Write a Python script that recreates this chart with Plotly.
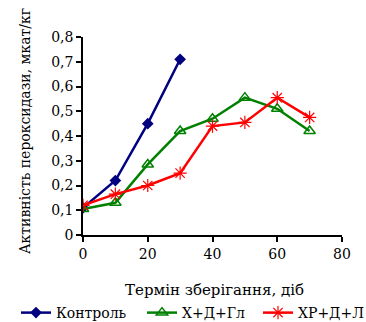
import plotly.graph_objects as go

days_ctrl = [0, 10, 20, 30]
ctrl = [0.11, 0.22, 0.45, 0.71]
days = [0, 10, 20, 30, 40, 50, 60, 70]
x_d_gl = [0.105, 0.13, 0.285, 0.42, 0.47, 0.555, 0.51, 0.42]
xr_d_l = [0.12, 0.165, 0.20, 0.25, 0.44, 0.455, 0.555, 0.475]

names = ["Контроль", "Х+Д+Гл", "ХР+Д+Л"]
x_ticks = [0, 20, 40, 60, 80]
y_ticks = [0, 0.1, 0.2, 0.3, 0.4, 0.5, 0.6, 0.7, 0.8]

FONT = "DejaVu Serif"

fig = go.Figure()
fig.add_trace(go.Scatter(x=days_ctrl, y=ctrl, name=names[0], mode="lines+markers",
                         line=dict(color="#000080", width=2.5), legend="legend",
                         marker=dict(symbol="diamond", size=9, color="#000080")))
fig.add_trace(go.Scatter(x=days, y=x_d_gl, name=names[1], mode="lines+markers",
                         line=dict(color="#008000", width=2.5), legend="legend2",
                         marker=dict(symbol="triangle-up-open", size=10, color="#008000",
                                     line=dict(color="#008000", width=1.5))))
fig.add_trace(go.Scatter(x=days, y=xr_d_l, name=names[2], mode="lines+markers",
                         line=dict(color="#FF0000", width=2.5), legend="legend3",
                         marker=dict(symbol="asterisk-open", size=11, color="#FF0000",
                                     line=dict(color="#FF0000", width=1.2))))

leg_common = dict(orientation="h", xanchor="left", yanchor="middle", y=-0.394,
                  font=dict(family=FONT, size=14), bgcolor="rgba(0,0,0,0)")

fig.update_layout(
    width=366, height=322,
    margin=dict(l=83, r=24, t=37, b=87, autoexpand=False),
    plot_bgcolor="white", paper_bgcolor="white",
    font=dict(family=FONT, size=14, color="black"),
    separators=", ",
    showlegend=True,
    legend=dict(x=(16 - 83) / 259, **leg_common),
    legend2=dict(x=(142 - 83) / 259, **leg_common),
    legend3=dict(x=(258 - 83) / 259, **leg_common),
    xaxis=dict(range=[0, 80], tickvals=x_ticks, showgrid=False, zeroline=False,
               showline=True, linecolor="black", linewidth=1.5,
               ticks="outside", ticklen=5, tickcolor="black", tickwidth=1.5,
               tickfont=dict(family=FONT, size=14), fixedrange=True),
    yaxis=dict(range=[0, 0.8], tickvals=y_ticks, showgrid=False, zeroline=False,
               showline=True, linecolor="black", linewidth=1.5,
               ticks="outside", ticklen=5, tickcolor="black", tickwidth=1.5,
               tickfont=dict(family=FONT, size=14), fixedrange=True),
    annotations=[
        dict(text="Термін зберігання, діб", xref="paper", yref="paper",
             x=(214 - 83) / 259, y=(235 - 290) / 198, xanchor="center", yanchor="middle",
             showarrow=False, font=dict(family=FONT, size=15)),
        dict(text="Активність пероксидази, мкат/кг", xref="paper", yref="paper",
             x=(25 - 83) / 259, y=(235 - 131) / 198, xanchor="center", yanchor="middle",
             textangle=-90, showarrow=False, font=dict(family=FONT, size=14)),
    ],
)

fig.write_html("out.html")
